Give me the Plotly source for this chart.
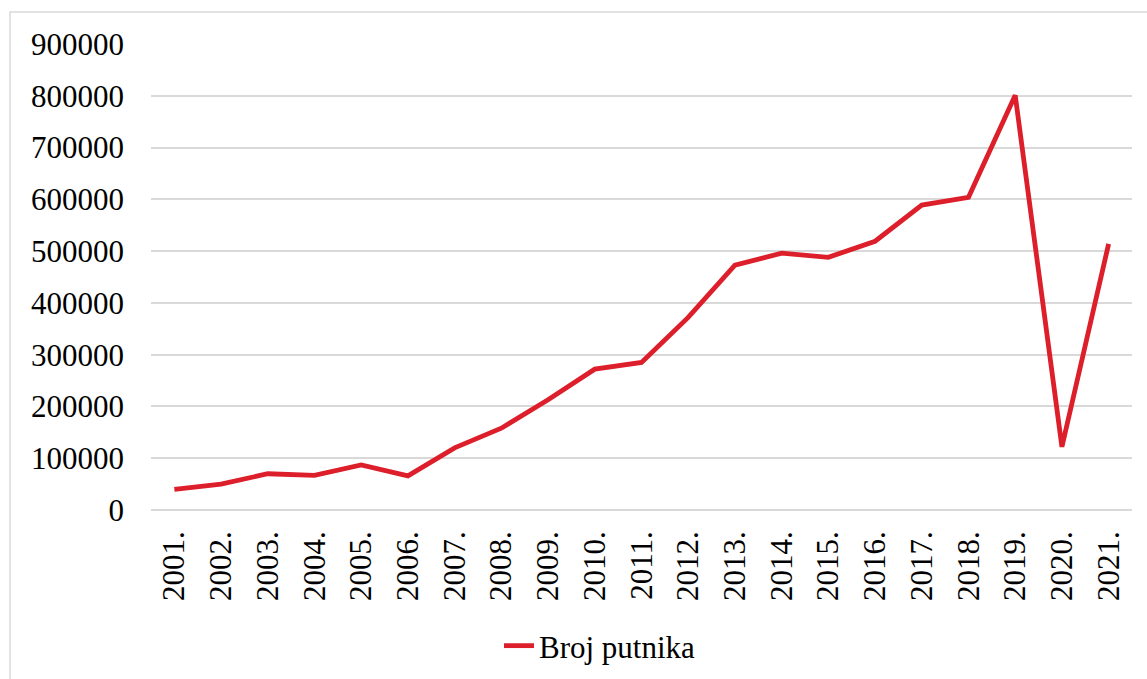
"""Broj putnika 2001.-2021. line chart."""

import plotly.graph_objects as go

# Data
years = [f"{y}." for y in range(2001, 2022)]
passengers = [
    40000, 50000, 70000, 67000, 87000, 66000, 120000, 158000, 213000, 272000,
    285000, 372000, 473000, 496000, 488000, 519000, 589000, 604000, 801000,
    122000, 514000,
]
y_ticks = list(range(0, 900001, 100000))

# Styling
RED = "#dc1f2a"
GRID = "#d9d9d9"
FONT = "Liberation Serif"

W, H = 1147, 679
M = {"l": 151, "r": 15, "t": 44, "b": 169}
pw = W - M["l"] - M["r"]
ph = H - M["t"] - M["b"]

fig = go.Figure()
fig.add_trace(
    go.Scatter(
        x=years,
        y=passengers,
        mode="lines",
        name="Broj putnika",
        line={"color": RED, "width": 4.8},
    )
)

fig.update_layout(
    width=W,
    height=H,
    margin=M,
    paper_bgcolor="white",
    plot_bgcolor="white",
    font={"family": FONT, "size": 31, "color": "black"},
    showlegend=True,
    legend={
        "orientation": "h",
        "xref": "container",
        "yref": "container",
        "x": 600 / W,
        "xanchor": "center",
        "y": 1 - 646 / H,
        "yanchor": "middle",
        "font": {"family": FONT, "size": 31},
        "itemwidth": 30,
    },
    shapes=[
        {
            "type": "rect",
            "xref": "paper",
            "yref": "paper",
            "x0": (10 - M["l"]) / pw,
            "x1": (W + 5 - M["l"]) / pw,
            "y0": (H - M["b"] - (H + 5)) / ph,
            "y1": (H - M["b"] - 12) / ph,
            "line": {"color": GRID, "width": 1.5},
            "layer": "below",
        }
    ],
)

fig.update_xaxes(
    type="category",
    range=[-0.5, len(years) - 0.5],
    tickangle=-90,
    showgrid=False,
    showline=False,
    ticks="",
    ticklabelstandoff=14,
    tickfont={"family": FONT, "size": 31},
    automargin=False,
)
fig.update_yaxes(
    range=[0, 900000],
    tickvals=y_ticks,
    ticktext=[str(v) for v in y_ticks],
    showgrid=True,
    gridcolor=GRID,
    gridwidth=1.5,
    zeroline=True,
    zerolinecolor=GRID,
    zerolinewidth=1.5,
    showline=False,
    ticks="",
    ticklabelstandoff=26,
    tickfont={"family": FONT, "size": 31},
    automargin=False,
)

# drop the default page margin and scrollbars so the figure fills the window exactly
page_fix = (
    "document.documentElement.style.margin='0';"
    "document.documentElement.style.overflow='hidden';"
    "document.body.style.margin='0';"
    "document.body.style.overflow='hidden';"
)
fig.write_html("out.html", post_script=page_fix, config={"displayModeBar": False})
